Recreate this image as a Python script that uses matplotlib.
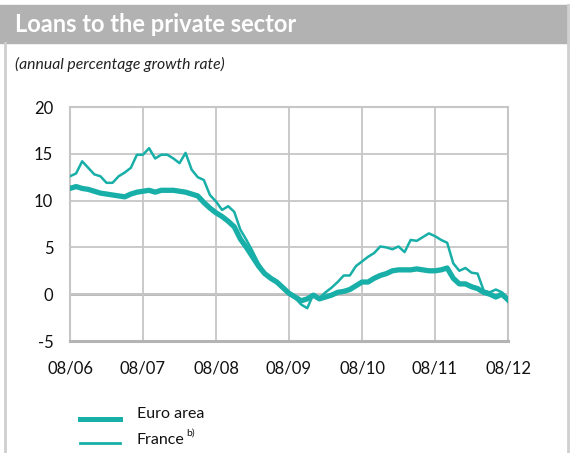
import matplotlib
matplotlib.use("Agg")
import matplotlib.pyplot as plt
from matplotlib.patches import Rectangle
from matplotlib.lines import Line2D

# monthly observations, 08/06 .. 08/12
euro_area = [11.3, 11.5, 11.3, 11.2, 11.0, 10.8, 10.7, 10.6, 10.5, 10.4,
             10.7, 10.9, 11.0, 11.1, 10.9, 11.1, 11.1, 11.1, 11.0, 10.9,
             10.7, 10.5, 9.8, 9.2, 8.7, 8.3, 7.8, 7.2, 5.9, 5.0,
             4.0, 3.0, 2.2, 1.7, 1.3, 0.7, 0.1, -0.3, -0.7, -0.5,
             -0.1, -0.5, -0.3, -0.1, 0.2, 0.3, 0.5, 0.9, 1.3, 1.3,
             1.7, 2.0, 2.2, 2.5, 2.6, 2.6, 2.6, 2.7, 2.6, 2.5,
             2.5, 2.6, 2.8, 1.7, 1.1, 1.1, 0.8, 0.6, 0.2, 0.0,
             -0.3, 0.0, -0.6]
france = [12.6, 12.9, 14.2, 13.5, 12.8, 12.6, 11.9, 11.9, 12.6, 13.0,
          13.5, 14.9, 14.9, 15.6, 14.5, 14.9, 14.9, 14.5, 14.0, 15.1,
          13.3, 12.5, 12.2, 10.6, 9.9, 9.0, 9.4, 8.8, 6.9, 5.8,
          4.6, 3.3, 2.3, 1.8, 1.3, 0.6, 0.0, -0.4, -1.1, -1.5,
          0.0, -0.4, 0.2, 0.7, 1.3, 2.0, 2.0, 3.0, 3.5, 4.0,
          4.4, 5.1, 5.0, 4.8, 5.1, 4.5, 5.8, 5.7, 6.1, 6.5,
          6.2, 5.8, 5.5, 3.3, 2.5, 2.8, 2.3, 2.2, 0.4, 0.2,
          0.5, 0.2, -0.8]
x_labels = ["08/06", "08/07", "08/08", "08/09", "08/10", "08/11", "08/12"]
y_ticks = [-5, 0, 5, 10, 15, 20]

teal = "#17AFA7"
grid_grey = "#C6C6C6"
plt.rcParams["font.family"] = ["Lato", "DejaVu Sans"]
plt.rcParams["axes.unicode_minus"] = False

fig = plt.figure(figsize=(5.72, 4.53), dpi=100)

# header bar and frame
fig.patches.append(Rectangle((0, 1 - 43 / 453), 568 / 572, 38 / 453,
                             transform=fig.transFigure, color="#B2B2B2", zorder=0))
fig.add_artist(Line2D([5 / 572, 5 / 572], [0, 1 - 43 / 453], color="#CFCFCF",
                      lw=2, transform=fig.transFigure))
fig.add_artist(Line2D([568 / 572, 568 / 572], [0, 1 - 5 / 453], color="#CFCFCF",
                      lw=2, transform=fig.transFigure))
fig.text(15 / 572, 1 - 24 / 453, "Loans to the private sector", color="white",
         fontsize=17, fontweight="bold", va="center", ha="left")
fig.text(15 / 572, 1 - 64 / 453, "(annual percentage growth rate)", color="#222222",
         fontsize=11.3, style="italic", va="center", ha="left")

ax = fig.add_axes([70 / 572, 112 / 453, 438 / 572, 234 / 453])
months = list(range(len(euro_area)))
ax.plot(months, france, color=teal, lw=1.8, zorder=3, solid_joinstyle="round")
ax.plot(months, euro_area, color=teal, lw=3.8, zorder=4, solid_joinstyle="round")

ax.set_xlim(0, 72)
ax.set_ylim(-5, 20)
ax.set_xticks([12 * i for i in range(len(x_labels))])
ax.set_xticklabels(x_labels)
ax.set_yticks(y_ticks)
ax.tick_params(length=0, labelsize=12, colors="#111111")
ax.tick_params(axis="y", pad=12)
ax.tick_params(axis="x", pad=14)
ax.grid(True, color=grid_grey, lw=1.3, zorder=0)
ax.axhline(0, color="#B4B4B4", lw=2, zorder=1)
for s in ax.spines.values():
    s.set_color(grid_grey)
    s.set_linewidth(1.5)
ax.spines["bottom"].set_color("#B4B4B4")
ax.spines["bottom"].set_linewidth(2.2)

# legend drawn by hand
fig.add_artist(Line2D([80 / 572, 120 / 572], [1 - 419 / 453] * 2, color=teal,
                      lw=3.6, transform=fig.transFigure))
fig.add_artist(Line2D([80 / 572, 120 / 572], [1 - 443 / 453] * 2, color=teal,
                      lw=2.0, transform=fig.transFigure))
fig.text(137 / 572, 1 - 414 / 453, "Euro area", fontsize=11.5, va="center", color="#111111")
fig.text(137 / 572, 1 - 440 / 453, "France", fontsize=11.5, va="center", color="#111111")
fig.text(186 / 572, 1 - 433 / 453, "b)", fontsize=7.5, va="center", color="#111111")

fig.savefig("out.png", dpi=100)
